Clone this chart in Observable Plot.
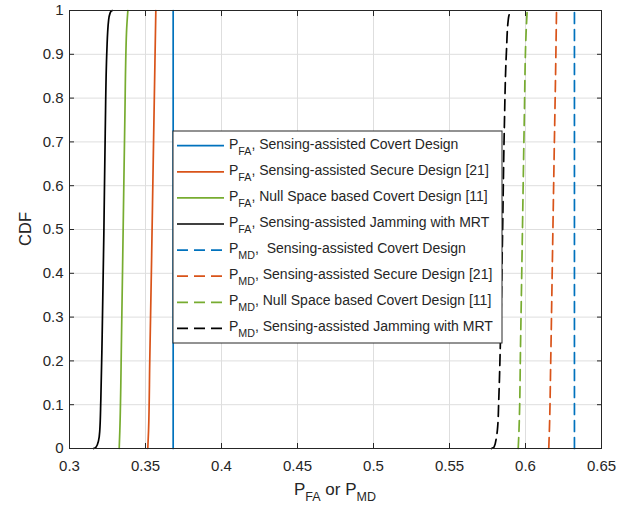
<!DOCTYPE html>
<html>
<head>
<meta charset="utf-8">
<script src="https://cdn.jsdelivr.net/npm/d3@7"></script>
<script src="https://cdn.jsdelivr.net/npm/@observablehq/plot@0.6"></script>
<style>
  html, body { margin: 0; padding: 0; background: #fff; }
  svg { display: block; }
</style>
</head>
<body>
<div id="chart"></div>
<script>
// ---------- data ----------
const seriesLabels = [
  "Sensing-assisted Covert Design",
  "Sensing-assisted Secure Design [21]",
  "Null Space based Covert Design [11]",
  "Sensing-assisted Jamming with MRT"
];
const seriesColors = ["#0072BD", "#D95319", "#77AC30", "#000000"];
const metrics = ["FA", "MD"];
const legendSeparators = [", ", ",  "]; // second style used for first MD entry only
const xTicks = [0.3, 0.35, 0.4, 0.45, 0.5, 0.55, 0.6, 0.65];
const yTicks = [0, 0.1, 0.2, 0.3, 0.4, 0.5, 0.6, 0.7, 0.8, 0.9, 1];

// CDF curves (x = probability value, p = CDF)
const faCovertX = [0.3682, 0.3682];
const faCovertP = [0, 1];
const faSecureX = [0.3515, 0.3520, 0.3528, 0.3540, 0.3551, 0.3562, 0.3568];
const faSecureP = [0, 0.04, 0.20, 0.43, 0.66, 0.88, 1];
const faNullX = [0.3327, 0.3331, 0.3342, 0.3353, 0.3364, 0.3375, 0.3384];
const faNullP = [0, 0.04, 0.25, 0.50, 0.75, 0.95, 1];
const faJamX = [0.3158, 0.3174, 0.3191, 0.3199, 0.3206, 0.3215, 0.3226, 0.3235, 0.3246, 0.3257, 0.3266, 0.3276, 0.3283];
const faJamP = [0, 0.003, 0.018, 0.04, 0.11, 0.26, 0.49, 0.72, 0.91, 0.977, 0.993, 0.999, 1];

const mdCovertX = [0.6322, 0.6322];
const mdCovertP = [0, 1];
const mdSecureX = [0.6153, 0.6157, 0.6166, 0.6177, 0.6188, 0.6199, 0.6204];
const mdSecureP = [0, 0.04, 0.20, 0.43, 0.66, 0.88, 1];
const mdNullX = [0.5952, 0.5957, 0.5968, 0.5980, 0.5992, 0.6004, 0.6011];
const mdNullP = [0, 0.04, 0.25, 0.50, 0.75, 0.95, 1];
const mdJamX = [0.5776, 0.5793, 0.5809, 0.5817, 0.5824, 0.5836, 0.5849, 0.5860, 0.5875, 0.5886, 0.5895, 0.5903, 0.5908];
const mdJamP = [0, 0.003, 0.026, 0.05, 0.11, 0.26, 0.49, 0.72, 0.91, 0.977, 0.993, 0.999, 1];

const curveXs = {FA: [faCovertX, faSecureX, faNullX, faJamX], MD: [mdCovertX, mdSecureX, mdNullX, mdJamX]};
const curvePs = {FA: [faCovertP, faSecureP, faNullP, faJamP], MD: [mdCovertP, mdSecureP, mdNullP, mdJamP]};

(function () {
  // ---------- build table ----------
  const rows = [];
  metrics.forEach(m => {
    curveXs[m].forEach((xs, s) => {
      xs.forEach((x, i) => rows.push({metric: m, series: s, x, p: curvePs[m][s][i]}));
    });
  });

  const FONT = "'Liberation Sans', Arial, Helvetica, sans-serif";
  const TXT = "#262626";
  const dash = "11,6";

  const lineMarks = [];
  metrics.forEach(m => {
    seriesLabels.forEach((_, s) => {
      lineMarks.push(Plot.line(rows.filter(r => r.metric === m && r.series === s), {
        x: "x", y: "p",
        stroke: seriesColors[s],
        strokeWidth: 1.7,
        strokeDasharray: m === "MD" ? dash : null,
        curve: "monotone-y"
      }));
    });
  });

  const chart = Plot.plot({
    width: 638,
    height: 519,
    marginLeft: 69,
    marginRight: 37,
    marginTop: 10,
    marginBottom: 71,
    x: {domain: [0.3, 0.65]},
    y: {domain: [0, 1]},
    style: {fontFamily: FONT, fontSize: "15px", color: TXT, background: "#fff"},
    marks: [
      Plot.gridX(xTicks, {stroke: "#dedede", strokeOpacity: 1, strokeWidth: 1}),
      Plot.gridY(yTicks, {stroke: "#dedede", strokeOpacity: 1, strokeWidth: 1}),
      ...lineMarks,
      Plot.frame({stroke: TXT, strokeWidth: 1}),
      // inward ticks on all four sides
      Plot.axisX(xTicks, {anchor: "bottom", tickSize: 5, dy: -5, tickFormat: () => "", label: null, stroke: TXT}),
      Plot.axisX(xTicks, {anchor: "top", tickSize: 5, dy: 5, tickFormat: () => "", label: null, stroke: TXT}),
      Plot.axisY(yTicks, {anchor: "left", tickSize: 5, dx: 5, tickFormat: () => "", label: null, stroke: TXT}),
      Plot.axisY(yTicks, {anchor: "right", tickSize: 5, dx: -5, tickFormat: () => "", label: null, stroke: TXT}),
      // tick labels
      Plot.axisX(xTicks, {anchor: "bottom", tickSize: 0, tickPadding: 12, tickFormat: d => String(d), label: null, fontSize: 15, fill: TXT}),
      Plot.axisY(yTicks, {anchor: "left", tickSize: 0, tickPadding: 6, tickFormat: d => String(d), label: null, fontSize: 15, fill: TXT})
    ]
  });

  document.getElementById("chart").appendChild(chart);

  // ---------- axis titles & legend (added with d3) ----------
  const svg = d3.select(chart);
  const xsc = chart.scale("x");
  const ysc = chart.scale("y");
  const pLeft = xsc.range[0], pRight = xsc.range[1];
  const pBottom = ysc.range[0], pTop = ysc.range[1];

  // y label
  svg.append("text")
    .attr("transform", `translate(25,${(pTop + pBottom) / 2}) rotate(-90)`)
    .attr("text-anchor", "middle")
    .attr("dominant-baseline", "central")
    .attr("font-family", FONT).attr("font-size", 16.5).attr("fill", TXT)
    .text("CDF");

  // x label with subscripts
  const xl = svg.append("text")
    .attr("x", (pLeft + pRight) / 2).attr("y", pBottom + 47)
    .attr("text-anchor", "middle")
    .attr("font-family", FONT).attr("font-size", 17).attr("fill", TXT);
  xl.append("tspan").text("P");
  xl.append("tspan").attr("font-size", 12.5).attr("dy", 6).text(metrics[0]);
  xl.append("tspan").attr("dy", -6).text(" or P");
  xl.append("tspan").attr("font-size", 12.5).attr("dy", 6).text(metrics[1]);

  // legend
  const lg = svg.append("g").attr("transform", "translate(173,131)");
  lg.append("rect").attr("x", 0).attr("y", 0).attr("width", 329).attr("height", 212)
    .attr("fill", "#fff").attr("stroke", TXT).attr("stroke-width", 1);
  let row = 0;
  metrics.forEach((m, mi) => {
    seriesLabels.forEach((lab, s) => {
      const cy = 14.7 + row * 26.1;
      lg.append("line")
        .attr("x1", 4).attr("x2", 51).attr("y1", cy).attr("y2", cy)
        .attr("stroke", seriesColors[s]).attr("stroke-width", 1.7)
        .attr("stroke-dasharray", m === "MD" ? dash : null);
      const t = lg.append("text")
        .attr("x", 56).attr("y", cy + 2.8)
        .attr("text-anchor", "start")
        .attr("font-family", FONT).attr("font-size", 14).attr("fill", TXT)
        .style("white-space", "pre");
      t.append("tspan").text("P");
      t.append("tspan").attr("font-size", 10.7).attr("dy", 6).text(m);
      const sep = (mi === 1 && s === 0) ? legendSeparators[1] : legendSeparators[0];
      t.append("tspan").attr("dy", -6).text(sep + lab);
      row++;
    });
  });
})();
</script>
</body>
</html>
